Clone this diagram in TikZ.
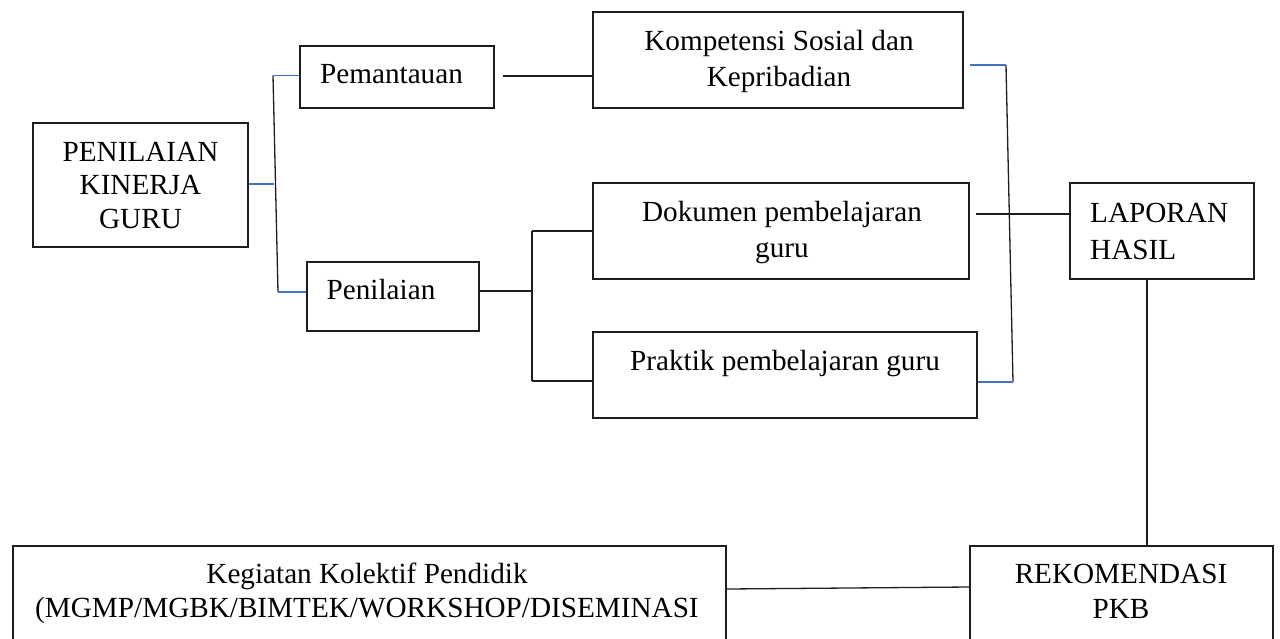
\documentclass[tikz,border=0pt]{standalone}
\usepackage{fontspec}
\setmainfont{Liberation Serif}
\definecolor{lineblue}{RGB}{68,114,196}
\definecolor{edge}{RGB}{30,30,30}
\begin{document}
\begin{tikzpicture}[x=1pt,y=-1pt,
  box/.style={draw=edge, line width=1.3pt, rectangle, inner sep=0pt},
  txt/.style={font=\fontsize{29.2}{33.5}\selectfont, inner sep=0pt, anchor=base},
  bl/.style={draw=lineblue, line width=1.3pt},
  bk/.style={draw=edge, line width=1.3pt}]
\useasboundingbox (0,0) rectangle (1280,638);
\clip (0,0) rectangle (1280,638);

% boxes
\node[box, minimum width=215pt, minimum height=124pt] (pkg)  at (140.5,185) {};
\node[box, minimum width=194pt, minimum height=62pt]  (pem)  at (397,77) {};
\node[box, minimum width=172pt, minimum height=69pt]  (pen)  at (393,296.5) {};
\node[box, minimum width=370pt, minimum height=96pt]  (kom)  at (778,60) {};
\node[box, minimum width=376pt, minimum height=96pt]  (dok)  at (781,231) {};
\node[box, minimum width=384pt, minimum height=86pt]  (pra)  at (785,375) {};
\node[box, minimum width=184pt, minimum height=96pt]  (lap)  at (1162,231) {};
\node[box, minimum width=303pt, minimum height=120pt] (rek)  at (1121.5,606) {};
\node[box, minimum width=713pt, minimum height=120pt] (keg)  at (369.5,606) {};

% labels (base anchor sits on the last line of a multi-line label)
\node[txt, align=center] (tpkg) at (140.5,228) {PENILAIAN\\KINERJA\\GURU};
\node[txt] (tpem) at (391.5,83) {Pemantauan};
\node[txt] (tpen) at (381,299) {Penilaian};
\node[txt, align=center, font=\fontsize{29.2}{36}\selectfont] (tkom) at (779,86) {Kompetensi Sosial dan\\Kepribadian};
\node[txt, align=center, font=\fontsize{29.2}{36}\selectfont] (tdok) at (782,257) {Dokumen pembelajaran\\guru};
\node[txt] (tpra) at (785,370) {Praktik pembelajaran guru};
\node[txt, align=left, anchor=base west, font=\fontsize{29.2}{37}\selectfont] (tlap) at (1090,259) {LAPORAN\\HASIL};
\node[txt, align=center, font=\fontsize{29.2}{35}\selectfont] (trek) at (1121,618) {REKOMENDASI\\PKB};
\node[txt, align=center, font=\fontsize{29.2}{34}\selectfont] (tkeg) at (367,617) {Kegiatan Kolektif Pendidik\\(MGMP/MGBK/BIMTEK/WORKSHOP/DISEMINASI};

% fork from the first box
\coordinate (ft) at (273,75.5);
\coordinate (fm) at (273.5,184);
\coordinate (fb) at (278,292);
\draw[bk] (ft) -- (fb);
\draw[bl] (pkg.east |- fm) -- (fm);
\draw[bl] (ft) -- (pem.west |- ft);
\draw[bl] (fb) -- (pen.west |- fb);

% monitoring to competence
\coordinate (ms) at (503,76);
\draw[bk] (ms) -- (kom.west |- ms);

% assessment fork
\coordinate (at) at (532,231);
\coordinate (am) at (532,291);
\coordinate (ab) at (532,381);
\draw[bk] (pen.east |- am) -- (am);
\draw[bk] (at) -- (ab);
\draw[bk] (at) -- (dok.west |- at);
\draw[bk] (ab) -- (pra.west |- ab);

% collector into the report
\coordinate (rt) at (1006,65);
\coordinate (rb) at (1013,382);
\coordinate (rs) at (976,214);
\draw[bk] (rt) -- (rb);
\draw[bl] (970,65) -- (rt);
\draw[bl] (pra.east |- rb) -- (rb);
\draw[bk] (rs) -- (lap.west |- rs);

% report to recommendation to collective activity
\coordinate (lv) at (1147,279);
\draw[bk] (lap.south -| lv) -- (rek.north -| lv);
\draw[bk] (keg.east |- 0,589) -- (rek.west |- 0,587);
\end{tikzpicture}
\end{document}
